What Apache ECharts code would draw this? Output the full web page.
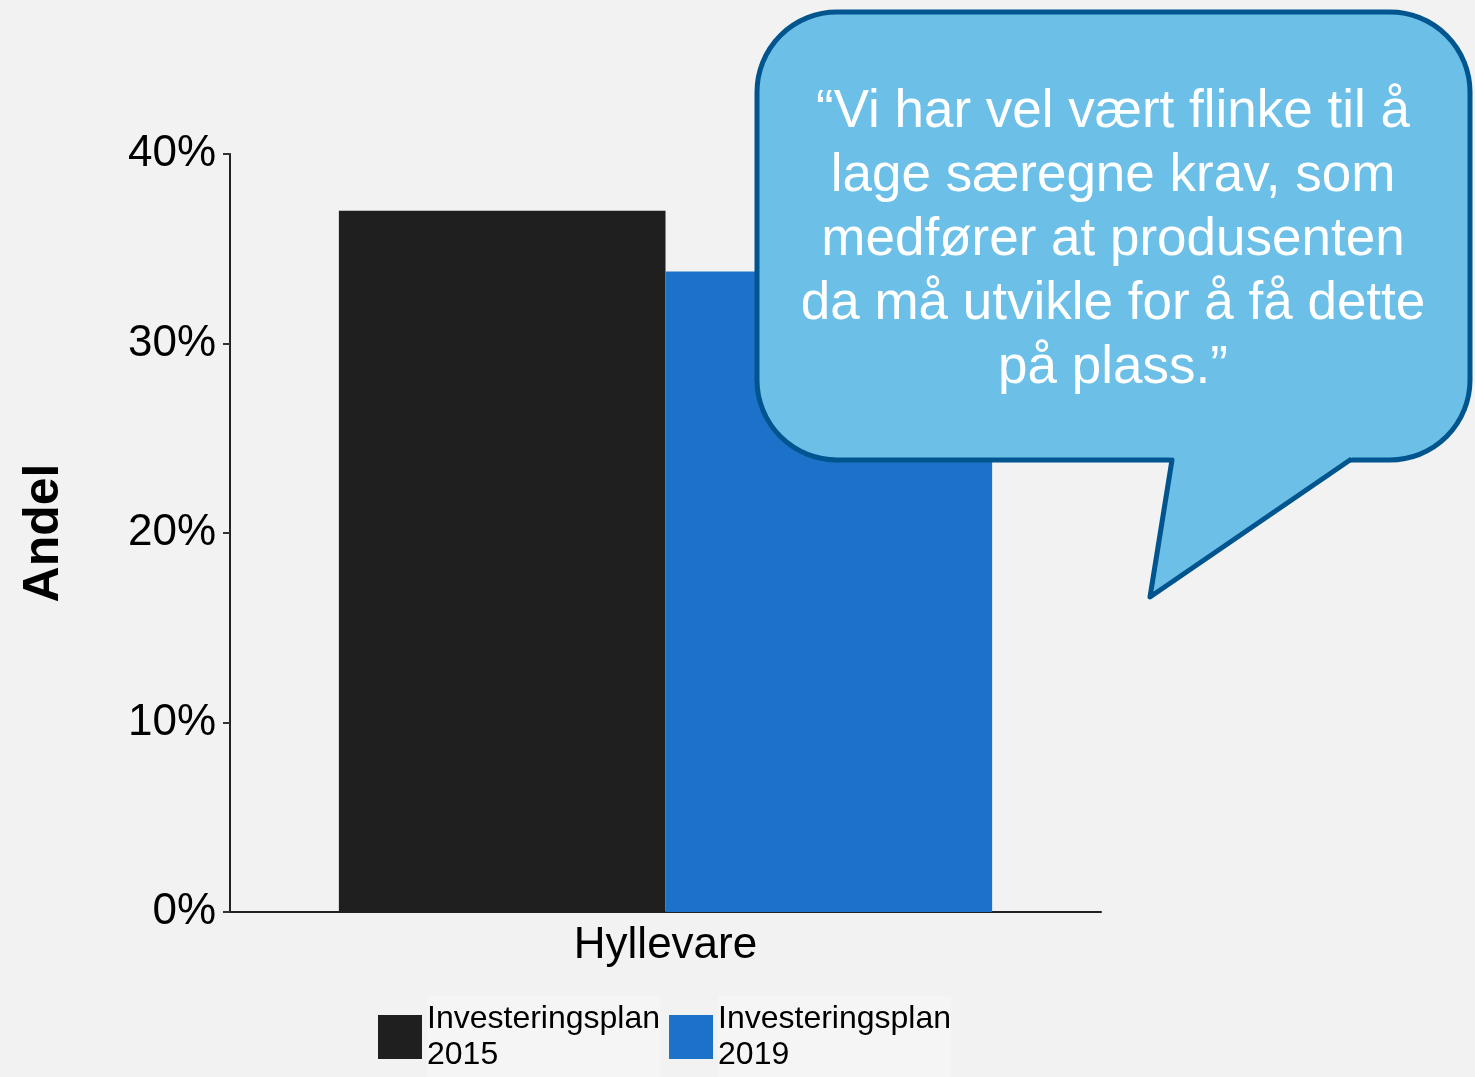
<!DOCTYPE html>
<html>
<head>
<meta charset="utf-8">
<script src="https://cdn.jsdelivr.net/npm/echarts@6/dist/echarts.min.js"></script>
<style>
html,body{margin:0;padding:0;background:#F2F2F2;}
#chart{width:1475px;height:1077px;}
</style>
</head>
<body>
<div id="chart"></div>
<script>
var categories = ['Hyllevare'];
var seriesNames = ['Investeringsplan\n2015', 'Investeringsplan\n2019'];
var values2015 = [37.0];
var values2019 = [33.8];
var yTicks = [0, 10, 20, 30, 40];
var quote = '\u201cVi har vel v\u00e6rt flinke til \u00e5\nlage s\u00e6regne krav, som\nmedf\u00f8rer at produsenten\nda m\u00e5 utvikle for \u00e5 f\u00e5 dette\np\u00e5 plass.\u201d';

var chart = echarts.init(document.getElementById('chart'), null, {renderer: 'canvas'});
var font = 'Liberation Sans, Arial, sans-serif';
var fillC = '#6CC0E8', strokeC = '#00558F';
chart.setOption({
  backgroundColor: '#F2F2F2',
  animation: false,
  textStyle: {fontFamily: font},
  grid: {left: 230, right: 374, top: 154, bottom: 165},
  legend: {
    left: 373, top: 991,
    itemWidth: 44, itemHeight: 44, itemGap: 9,
    icon: 'rect',
    textStyle: {fontSize: 32, lineHeight: 36, color: '#000', fontFamily: font, padding: [10, 0, 0, 0], backgroundColor: '#F5F5F5'},
    data: seriesNames
  },
  xAxis: {
    type: 'category',
    data: categories,
    axisLine: {lineStyle: {color: '#222', width: 2}},
    axisTick: {alignWithLabel: true, length: 7, lineStyle: {color: '#333', width: 2}},
    axisLabel: {fontSize: 44, color: '#000', margin: 12, fontFamily: font}
  },
  yAxis: {
    type: 'value',
    min: yTicks[0], max: yTicks[yTicks.length - 1], interval: 10,
    name: 'Andel',
    nameLocation: 'middle',
    nameRotate: 90,
    nameGap: 161,
    nameTextStyle: {fontSize: 50, fontWeight: 'bold', color: '#000', fontFamily: font},
    axisLine: {show: true, lineStyle: {color: '#222', width: 2}},
    axisTick: {show: true, length: 7, lineStyle: {color: '#333', width: 2}},
    splitLine: {show: false},
    axisLabel: {fontSize: 44, color: '#000', margin: 14, formatter: '{value}%', fontFamily: font}
  },
  series: [
    {name: seriesNames[0], type: 'bar', data: values2015, barGap: '0%', barCategoryGap: '25%',
     itemStyle: {color: '#1F1F1F'}},
    {name: seriesNames[1], type: 'bar', data: values2019, barGap: '0%', barCategoryGap: '25%',
     itemStyle: {color: '#1C72C8'}}
  ],
  graphic: [
    {
      type: 'rect', z: 100,
      shape: {x: 757, y: 12, width: 713, height: 448, r: 80},
      style: {fill: fillC, stroke: strokeC, lineWidth: 5}
    },
    {
      type: 'polygon', z: 101,
      shape: {points: [[1171, 454], [1353, 454], [1351, 461], [1150, 597]]},
      style: {fill: fillC}
    },
    {
      type: 'polyline', z: 102,
      shape: {points: [[1172, 460], [1150, 597], [1350, 460]]},
      style: {fill: null, stroke: strokeC, lineWidth: 5, lineJoin: 'round', lineCap: 'round'}
    },
    {
      type: 'text', z: 103,
      x: 1113, y: 240,
      style: {text: quote, fill: '#fff', fontSize: 53, lineHeight: 64, fontFamily: font, align: 'center', verticalAlign: 'middle'}
    }
  ]
});
</script>
</body>
</html>
